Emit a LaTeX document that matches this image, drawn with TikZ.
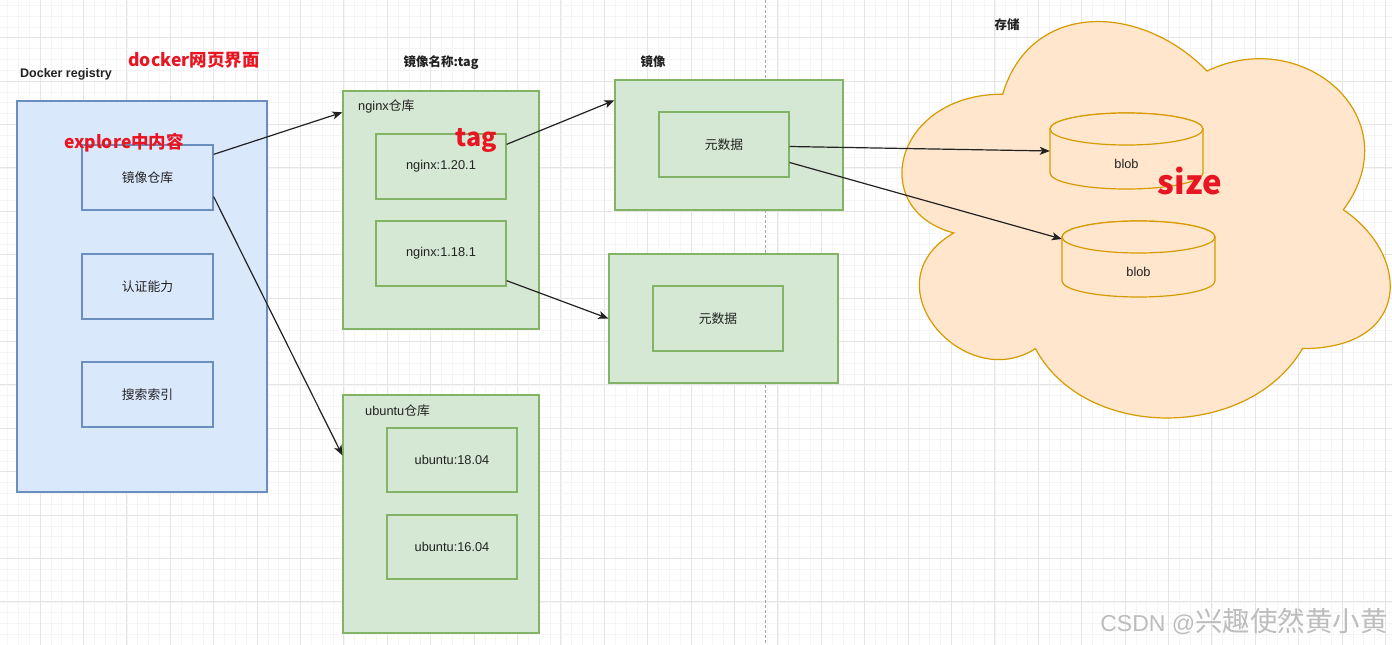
\documentclass[tikz,border=0pt]{standalone}
\usepackage{fontspec}
\setmainfont{Liberation Sans}
\newfontfamily\cjk{Noto Sans CJK SC}
\usetikzlibrary{arrows.meta,calc,positioning}

\definecolor{ink}{RGB}{34,34,34}
\definecolor{regfill}{RGB}{218,232,252}
\definecolor{regline}{RGB}{108,142,191}
\definecolor{repofill}{RGB}{213,232,212}
\definecolor{repoline}{RGB}{130,179,102}
\definecolor{cloudfill}{RGB}{255,230,204}
\definecolor{cloudline}{RGB}{215,155,0}
\definecolor{note}{RGB}{232,22,34}

\tikzset{
  txt/.style={text=ink, inner sep=0pt, font=\fontsize{12.8}{15}\selectfont},
  head/.style={text=ink, inner sep=0pt, font=\bfseries\fontsize{12.5}{15}\selectfont},
  redlbl/.style={text=note, inner sep=0pt, font=\cjk\bfseries\fontsize{17.5}{20}\selectfont},
  regbox/.style={txt, draw=regline, fill=regfill, line width=1.3pt, minimum width=131pt, minimum height=65pt},
  repobox/.style={txt, draw=repoline, fill=repofill, line width=1.3pt, minimum width=130pt, minimum height=65pt},
  store/.style={draw=cloudline, fill=cloudfill, line width=1.2pt},
  minorgrid/.style={draw=black!4, line width=0.5pt},
  majorgrid/.style={draw=black!10, line width=0.7pt},
  link/.style={-{Stealth[length=10pt,width=8pt,inset=2.5pt]}, draw=ink, line width=1.2pt},
}

\begin{document}
\begin{tikzpicture}[x=1pt, y=-1pt]

  \newcommand\blobcyl[3]{%
    \filldraw[store] (#1,#2+16) -- (#1,#2+60)
      arc[start angle=180, end angle=0, x radius=76.5, y radius=16]
      -- (#1+153,#2+16)
      arc[start angle=0, end angle=-180, x radius=76.5, y radius=16] -- cycle;
    \draw[store] (#1+76.5,#2+16) ellipse[x radius=76.5, y radius=16];
    \node[minimum width=153pt, minimum height=76pt, inner sep=0pt] (#3) at (#1+76.5,#2+38) {};
    \node[txt] (#3txt) at (#1+76.5,#2+51) {blob};
  }

  \useasboundingbox (0,0) rectangle (1392,645);
  \fill[white] (0,0) rectangle (1392,645);

  % grid
  \begin{scope}
    \clip (0,0) rectangle (1392,645);
    \foreach \i in {0,...,129}
      \draw[minorgrid] ({-3.4+\i*10.85},0) -- ++(0,645);
    \foreach \j in {0,...,60}
      \draw[minorgrid] (0,{-5.8+\j*10.85}) -- ++(1392,0);
    \foreach \i in {0,...,32}
      \draw[majorgrid] ({40+\i*43.4},0) -- ++(0,645);
    \foreach \j in {0,...,14}
      \draw[majorgrid] (0,{37.6+\j*43.4}) -- ++(1392,0);
  \end{scope}
  \draw[black!35, line width=0.8pt, dash pattern=on 2.5pt off 2.5pt] (765,0) -- (765,645);

  % registry
  \node[regbox, minimum width=250pt, minimum height=391pt] (registry) at (142,296.5) {};
  \node[head] (reglbl) at (66,74) {Docker registry};
  \node[redlbl] (weblbl) at (194,60) {docker网页界面};
  \node[regbox] (repo) at (147.5,177.5) {\cjk 镜像仓库};
  \node[regbox] (auth) at (147.5,286.5) {\cjk 认证能力};
  \node[regbox] (search) at (147.5,394.5) {\cjk 搜索索引};
  \node[redlbl] (explbl) at (124,143) {explore中内容};

  % repositories
  \node[head] (namelbl) at (441,63) {\cjk\bfseries 镜像名称:tag};
  \node[repobox, minimum width=196pt, minimum height=238pt] (nginxrepo) at (441,210) {};
  \node[txt, anchor=west] (nginxlbl) at (358,106) {nginx{\cjk 仓库}};
  \node[repobox] (n1201) at (441,166.5) {nginx:1.20.1};
  \node[repobox] (n1181) at (441,253.5) {nginx:1.18.1};
  \node[redlbl, font=\cjk\bfseries\fontsize{25}{28}\selectfont] (taglbl) at (476,140) {tag};

  \node[repobox, minimum width=196pt, minimum height=238pt] (uburepo) at (441,514) {};
  \node[txt, anchor=west] (ubulbl) at (365,411) {ubuntu{\cjk 仓库}};
  \node[repobox, minimum height=64pt] (u1804) at (452,460) {ubuntu:18.04};
  \node[repobox, minimum height=64pt] (u1604) at (452,547) {ubuntu:16.04};

  % images
  \node[head] (imglbl) at (653,62) {\cjk\bfseries 镜像};
  \node[repobox, minimum width=228pt, minimum height=130pt] (img1) at (729,145) {};
  \node[repobox] (meta1) at (724,144.5) {\cjk 元数据};
  \node[repobox, minimum width=229pt, minimum height=129pt] (img2) at (723.5,318.5) {};
  \node[repobox] (meta2) at (718,318.5) {\cjk 元数据};

  % storage cloud
  \node[head] (storelbl) at (1007,25) {\cjk\bfseries 存储};
  \filldraw[store] (1002.75,94.15)
    .. controls (893.75,94.15) and (866.5,209.8) .. (953.7,232.93)
    .. controls (866.5,283.8) and (964.6,394.84) .. (1035.45,348.58)
    .. controls (1084.5,441.1) and (1248,441.1) .. (1302.5,348.58)
    .. controls (1411.5,348.58) and (1411.5,256.06) .. (1343.4,209.8)
    .. controls (1411.5,117.28) and (1302.5,24.76) .. (1207.1,71.02)
    .. controls (1139,1.63) and (1030,1.63) .. (1002.75,94.15) -- cycle;
  \blobcyl{1050}{113}{blob1}
  \blobcyl{1062}{221}{blob2}
  \node[redlbl, font=\cjk\bfseries\fontsize{33}{36}\selectfont] (sizelbl) at (1190,181) {size};

  % arrows
  \draw[link] ($(repo.north east)+(0,10)$) -- ($(nginxrepo.north west)+(0,22)$);
  \draw[link] ($(repo.south east)+(0,-14)$) -- ($(uburepo.north west)+(0,61)$);
  \draw[link] ($(n1201.north east)+(0,11)$) -- ($(img1.north west)+(0,21)$);
  \draw[link] ($(n1181.south east)+(0,-6)$) -- (img2.west);
  \draw[link] ($(meta1.east)+(0,2)$) -- (blob1.west);
  \draw[link] ($(meta1.east)+(0,18)$) -- ($(blob2.west)+(0,-20)$);

  \node[text=black!26, inner sep=0pt] (mark) at (1244,621)
    {\fontsize{23}{26}\selectfont CSDN @{\cjk\fontsize{27.5}{30}\selectfont 兴趣使然黄小黄}};

\end{tikzpicture}
\end{document}
